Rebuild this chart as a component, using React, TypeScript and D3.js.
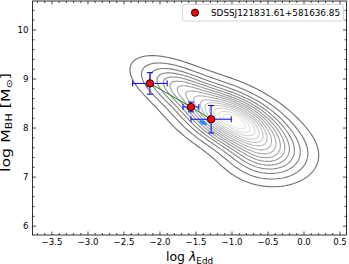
import React, { useEffect, useRef } from "react";
import * as d3 from "d3";

const width = 349;
const height = 264;
const margin = { top: 1, right: 2.5, bottom: 29, left: 32.5 };

// measured epochs: log lambda_Edd, log M_BH and their errors
const pointX = [-2.14, -1.57, -1.29];
const pointY = [8.91, 8.43, 8.18];
const pointXErr = [0.24, 0.11, 0.28];
const pointYErr = [0.22, 0.1, 0.28];

const xTicks = [-3.5, -3.0, -2.5, -2.0, -1.5, -1.0, -0.5, 0.0, 0.5];
const yTicks = [6, 7, 8, 9, 10];

const legendLabel = "SDSSJ121831.61+581636.85";

// parent population: gaussian lumps (data units)
const lumpX = [-0.97, -1.73, -0.52];
const lumpY = [8.14, 8.83, 7.45];
const lumpSigU = [0.5, 0.4, 0.34];
const lumpSigV = [0.28, 0.21, 0.3];
const lumpW = [1, 0.35, 0.3];
const lumpAngle = -41.9;
const levels = [0.04, 0.1, 0.17, 0.24, 0.31, 0.38, 0.45, 0.52, 0.59, 0.66, 0.72, 0.78, 0.84, 0.9, 0.95];

// small filled blue region
const patchX = -1.4;
const patchY = 8.11;
const patchA = 0.065;
const patchB = 0.035;

export default function App() {
  const chartRef = useRef<SVGSVGElement>(null);

  useEffect(() => {
    const svg = d3.select(chartRef.current);
    svg.selectAll("*").remove();

    const x = d3
      .scaleLinear()
      .domain([-3.77, 0.59])
      .range([margin.left, width - margin.right]);
    const y = d3
      .scaleLinear()
      .domain([5.82, 10.59])
      .range([height - margin.bottom, margin.top]);

    // density grid
    const x0 = -3.77, x1 = 0.59, y0 = 5.82, y1 = 10.59, step = 0.02;
    const nx = Math.round((x1 - x0) / step);
    const ny = Math.round((y1 - y0) / step);
    const th = (lumpAngle * Math.PI) / 180;
    const ux = Math.cos(th), uy = Math.sin(th);
    const values = new Array(nx * ny);
    for (let j = 0; j < ny; j++) {
      const gy = y0 + (j + 0.5) * step;
      for (let i = 0; i < nx; i++) {
        const gx = x0 + (i + 0.5) * step;
        let v = 0;
        lumpX.forEach((cx, k) => {
          const dx = gx - cx, dy = gy - lumpY[k];
          const u = dx * ux + dy * uy;
          const w = -dx * uy + dy * ux;
          v += lumpW[k] * Math.exp(-0.5 * ((u / lumpSigU[k]) ** 2 + (w / lumpSigV[k]) ** 2));
        });
        values[j * nx + i] = v;
      }
    }
    const vmax = d3.max(values);
    const contours = d3
      .contours()
      .size([nx, ny])
      .thresholds(levels.map(l => l * vmax))(values);

    const proj = d3.geoTransform({
      point: function (px, py) {
        this.stream.point(x(x0 + px * step), y(y0 + py * step));
      },
    });
    const path = d3.geoPath(proj);
    const grey = d3.scaleLinear<string>().domain([0, levels.length - 1]).range(["#6c6c6c", "#e4e4e4"]);

    svg
      .append("g")
      .attr("fill", "none")
      .attr("stroke-width", 1.1)
      .selectAll("path")
      .data(contours)
      .join("path")
      .attr("stroke", (d, i) => grey(i))
      .attr("d", path);

    // blue patch
    const patch = d3.range(0, 360, 10).map(a => {
      const t = (a * Math.PI) / 180;
      const u = patchA * Math.cos(t), w = patchB * Math.sin(t);
      return [patchX + u * ux - w * uy, patchY + u * uy + w * ux];
    });
    svg
      .append("path")
      .attr("fill", "#1e90ff")
      .attr("d", d3.line().x(d => x(d[0])).y(d => y(d[1])).curve(d3.curveCardinalClosed)(patch));

    // track
    svg
      .append("path")
      .attr("fill", "none")
      .attr("stroke", "#1a7f1a")
      .attr("stroke-width", 1)
      .attr("d", d3.line().x(d => x(d[0])).y(d => y(d[1]))(pointX.map((v, i) => [v, pointY[i]])));

    // error bars
    const cap = 3;
    const eb = svg.append("g").attr("stroke", "#0000ff").attr("stroke-width", 1).attr("fill", "none");
    pointX.forEach((px, i) => {
      const cx = x(px), cy = y(pointY[i]);
      const xl = x(px - pointXErr[i]), xr = x(px + pointXErr[i]);
      const yt = y(pointY[i] + pointYErr[i]), yb = y(pointY[i] - pointYErr[i]);
      eb.append("path").attr("d", `M${xl},${cy}H${xr}M${cx},${yt}V${yb}`);
      eb.append("path").attr("d", `M${xl},${cy - cap}V${cy + cap}M${xr},${cy - cap}V${cy + cap}`);
      eb.append("path").attr("d", `M${cx - cap},${yt}H${cx + cap}M${cx - cap},${yb}H${cx + cap}`);
    });

    svg
      .append("g")
      .selectAll("circle")
      .data(pointX)
      .join("circle")
      .attr("cx", d => x(d))
      .attr("cy", (d, i) => y(pointY[i]))
      .attr("r", 3.7)
      .attr("fill", "#ff0000")
      .attr("stroke", "#000")
      .attr("stroke-width", 0.9);

    // frame and ticks (inward, all four sides)
    const [L, R] = x.range();
    const [B, T] = y.range();
    svg
      .append("rect")
      .attr("x", L)
      .attr("y", T)
      .attr("width", R - L)
      .attr("height", B - T)
      .attr("fill", "none")
      .attr("stroke", "#000")
      .attr("stroke-width", 0.8);

    const ticks = svg.append("g").attr("stroke", "#000").attr("stroke-width", 0.7);
    const xMinor = d3.range(-37, 6).map(v => v / 10).filter(v => !xTicks.some(t => Math.abs(t - v) < 1e-6));
    const yMinor = d3.range(30, 53).map(v => v / 5).filter(v => !yTicks.includes(v));
    const tx = (vals, len) =>
      vals.forEach(v => {
        ticks.append("path").attr("d", `M${x(v)},${B}v${-len}M${x(v)},${T}v${len}`);
      });
    const ty = (vals, len) =>
      vals.forEach(v => {
        ticks.append("path").attr("d", `M${L},${y(v)}h${len}M${R},${y(v)}h${-len}`);
      });
    tx(xTicks, 3.5);
    tx(xMinor, 2);
    ty(yTicks, 3.5);
    ty(yMinor, 2);

    const labels = svg
      .append("g")
      .attr("font-family", "DejaVu Sans")
      .attr("font-size", 8.6)
      .attr("fill", "#000");
    labels
      .selectAll(".xl")
      .data(xTicks)
      .join("text")
      .attr("x", d => x(d))
      .attr("y", 245)
      .attr("text-anchor", "middle")
      .text(d => d3.format(".1f")(d).replace("-", "\u2212"));
    labels
      .selectAll(".yl")
      .data(yTicks)
      .join("text")
      .attr("x", 28.5)
      .attr("y", d => y(d))
      .attr("dy", "0.36em")
      .attr("text-anchor", "end")
      .text(d => d);

    // axis titles
    const xt = svg
      .append("text")
      .attr("font-family", "DejaVu Sans")
      .attr("font-size", 12.5)
      .attr("x", (L + R) / 2)
      .attr("y", 261)
      .attr("text-anchor", "middle");
    xt.append("tspan").text("log ");
    xt.append("tspan").attr("font-style", "italic").text("\u03bb");
    xt.append("tspan").attr("font-size", 8.8).attr("dy", 2.5).text("Edd");

    const yt = svg
      .append("text")
      .attr("font-family", "DejaVu Sans")
      .attr("font-size", 11.5)
      .attr("transform", `translate(10,122.5) rotate(-90)`)
      .attr("text-anchor", "middle")
      .attr("textLength", 99)
      .attr("lengthAdjust", "spacingAndGlyphs");
    yt.append("tspan").text("log M");
    yt.append("tspan").attr("font-size", 8).attr("dy", 2.3).text("BH");
    yt.append("tspan").attr("dy", -2.3).text(" [M");
    yt.append("tspan").attr("font-size", 8).attr("dy", 2.3).text("\u2299");
    yt.append("tspan").attr("dy", -2.3).text("]");

    // legend
    const lg = svg.append("g");
    lg.append("rect")
      .attr("x", 182.5)
      .attr("y", 4.5)
      .attr("width", 161)
      .attr("height", 16.5)
      .attr("rx", 2)
      .attr("fill", "#fff")
      .attr("fill-opacity", 0.8)
      .attr("stroke", "#cccccc")
      .attr("stroke-width", 0.8);
    lg.append("circle")
      .attr("cx", 195)
      .attr("cy", 12.7)
      .attr("r", 3.6)
      .attr("fill", "#ff0000")
      .attr("stroke", "#000")
      .attr("stroke-width", 0.9);
    lg.append("text")
      .attr("x", 211)
      .attr("y", 16.4)
      .attr("font-family", "DejaVu Sans")
      .attr("font-size", 9.5)
      .attr("textLength", 129)
      .attr("lengthAdjust", "spacingAndGlyphs")
      .text(legendLabel);
  }, []);

  return (
    <svg
      ref={chartRef}
      width={width}
      height={height}
      style={{ position: "absolute", left: 0, top: 0, background: "#fff" }}
    />
  );
}
